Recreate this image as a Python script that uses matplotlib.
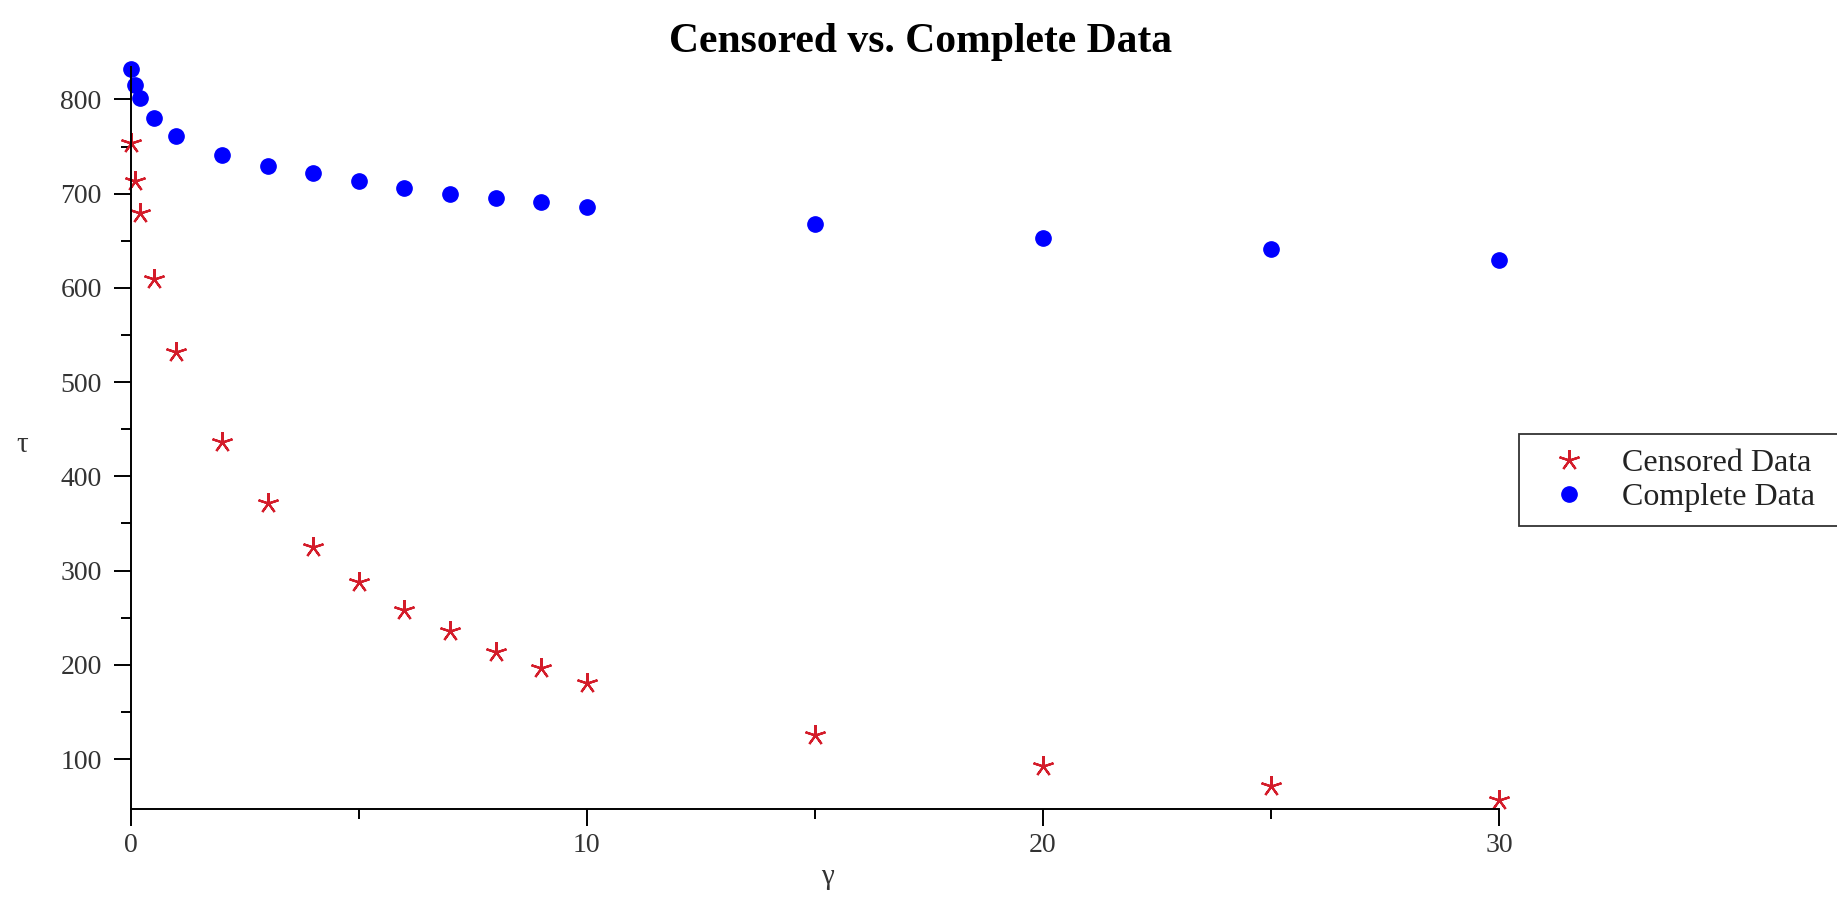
import matplotlib
matplotlib.use('Agg')
import matplotlib.pyplot as plt

plt.rcParams['font.family'] = ['Liberation Serif', 'DejaVu Serif']

# data
gamma = [0, 0.1, 0.2, 0.5, 1, 2, 3, 4, 5, 6, 7, 8, 9, 10, 15, 20, 25, 30]
censored = [754, 713, 680, 609, 532, 436, 372, 325, 288, 258, 236, 214, 197, 181, 125, 93, 71, 56]
complete = [832, 815, 802, 780, 761, 741, 729, 722, 713, 706, 700, 695, 691, 686, 668, 653, 641, 630]

x_major = [0, 10, 20, 30]
x_minor = [5, 15, 25]
y_major = [100, 200, 300, 400, 500, 600, 700, 800]
y_minor = [150, 250, 350, 450, 550, 650, 750]

fig = plt.figure(figsize=(18.37, 9.06), dpi=100)
ax = fig.add_axes([0.0712, 0.1071, 0.7449, 0.8195])

ax.plot(gamma, censored, linestyle='none', marker=(5, 2, 0), markersize=15,
        markeredgewidth=1.6, color='#d41c2a', label='Censored Data', clip_on=False)
ax.plot(gamma, complete, linestyle='none', marker='o', markersize=11,
        color='#0000ff', label='Complete Data', clip_on=False)

ax.set_xlim(0, 30)
ax.set_ylim(47, 835)
ax.set_xticks(x_major)
ax.set_xticks(x_minor, minor=True)
ax.set_yticks(y_major)
ax.set_yticks(y_minor, minor=True)

for s in ['top', 'right']:
    ax.spines[s].set_visible(False)
for s in ['left', 'bottom']:
    ax.spines[s].set_linewidth(1.4)

ax.tick_params(which='major', length=12, width=1.4, labelsize=20, color='black')
ax.tick_params(which='minor', length=7, width=1.4)
ax.tick_params(axis='y', pad=9)
ax.tick_params(axis='x', pad=5)
for lab in ax.get_xticklabels() + ax.get_yticklabels():
    lab.set_color('#333333')

ax.set_xlabel('γ', fontsize=21, color='#333333', va='center')
ax.xaxis.set_label_coords(0.509, -0.0916)
ax.set_ylabel('τ', fontsize=21, rotation=0, color='#333333', va='center', ha='center')
ax.yaxis.set_label_coords(-0.0794, 0.49)

fig.text(0.501, 0.954, 'Censored vs. Complete Data', ha='center', va='center',
         fontsize=30, fontweight='bold')

leg = ax.legend(loc='upper left', bbox_to_anchor=(1519 / 1837, 1 - 434 / 906, 0.3, 0),
                bbox_transform=fig.transFigure, mode='expand', fontsize=23,
                frameon=True, fancybox=False, borderaxespad=0, borderpad=0.45,
                handlelength=2.22, handletextpad=0.55, labelspacing=0.15)
leg.get_frame().set_edgecolor('black')
leg.get_frame().set_linewidth(1.3)
for t in leg.get_texts():
    t.set_color('#222222')

fig.savefig('out.png', dpi=100)
